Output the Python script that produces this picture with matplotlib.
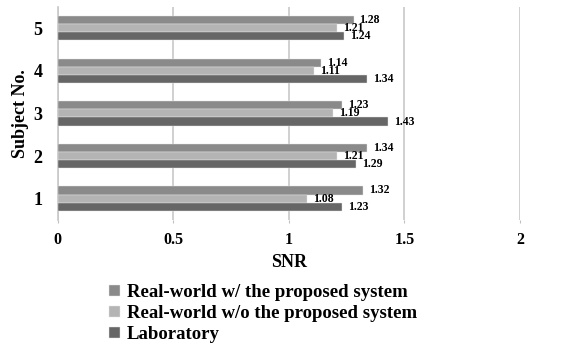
import matplotlib.pyplot as plt
import numpy as np

plt.rcParams['font.family'] = 'Liberation Serif'
plt.rcParams['font.weight'] = 'bold'

subjects = ['1', '2', '3', '4', '5']
series_names = ['Real-world w/ the proposed system',
                'Real-world w/o the proposed system',
                'Laboratory']
with_system = [1.32, 1.34, 1.23, 1.14, 1.28]
without_system = [1.08, 1.21, 1.19, 1.11, 1.21]
laboratory = [1.23, 1.29, 1.43, 1.34, 1.24]
colors = ['#8a8a8a', '#b4b4b4', '#666666']

fig = plt.figure(figsize=(5.61, 3.49), dpi=100)
ax = fig.add_axes([0.103, 0.37, 0.824, 0.61])

y = np.arange(len(subjects))
h = 0.19
offsets = [h, 0, -h]
all_series = [with_system, without_system, laboratory]
for vals, off, c, name in zip(all_series, offsets, colors, series_names):
    bars = ax.barh(y + off, vals, height=h, color=c, edgecolor='#e6e6e6',
                   linewidth=0.3, label=name, zorder=3)
    for b, v in zip(bars, vals):
        ax.text(v + 0.025, b.get_y() + b.get_height() / 2, f'{v:.2f}',
                va='center', ha='left', fontsize=8.5, fontweight='bold', zorder=4)

ax.set_xlim(0, 2)
ax.set_ylim(-0.5, 4.5)
ax.set_xticks([0, 0.5, 1, 1.5, 2])
ax.set_xticklabels(['0', '0.5', '1', '1.5', '2'])
ax.set_yticks(y)
ax.set_yticklabels(subjects, fontsize=13)
ax.tick_params(axis='x', labelsize=11.5, length=2, color='#c0c0c0', pad=7)
ax.tick_params(axis='y', length=0, pad=11)
ax.grid(axis='x', color='#c8c8c8', linewidth=1.2, zorder=0)
for s in ['top', 'right', 'bottom']:
    ax.spines[s].set_visible(False)
ax.spines['left'].set_color('#c8c8c8')
ax.spines['left'].set_linewidth(1.2)

ax.set_xlabel('SNR', fontsize=13, fontweight='bold', labelpad=4)
ax.set_ylabel('Subject No.', fontsize=13, fontweight='bold', labelpad=3)

fig.legend(loc='upper left', bbox_to_anchor=(0.178, 0.212), frameon=False,
           fontsize=13.5, handlelength=0.55, handleheight=0.55, handletextpad=0.4,
           labelspacing=0.2, borderpad=0)

fig.savefig('out.png', dpi=100)
